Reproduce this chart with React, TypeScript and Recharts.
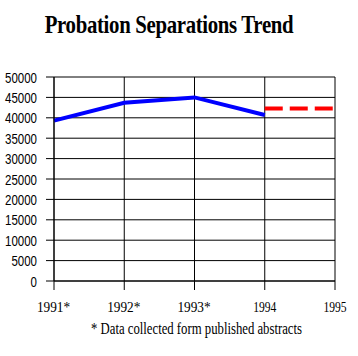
import React from "react";
import { LineChart, Line, XAxis, YAxis, CartesianGrid } from "recharts";

const categories = ["1991*", "1992*", "1993*", "1994", "1995"];
const reported = [39300, 43700, 45000, 40700, null];
const projected = [null, null, null, 42300, 42300];
const yTicks = [0, 5000, 10000, 15000, 20000, 25000, 30000, 35000, 40000, 45000, 50000];

const data = categories.map((c, i) => ({ year: c, reported: reported[i], projected: projected[i] }));

const YTick = (props: any) => {
  const s = String(props.payload.value);
  const len = s.length * 6.4;
  return (
    <text x={props.x - len} y={props.y} dy="0.4em" textAnchor="start" fontFamily="Liberation Sans, Arial, sans-serif" fontSize={14} fill="#000" textLength={len} lengthAdjust="spacingAndGlyphs">
      {s}
    </text>
  );
};

const XTick = (props: any) => {
  const s = String(props.payload.value);
  const star = s.endsWith("*");
  const len = 4 * 5.8 + (star ? 10 : 0);
  return (
    <text x={props.x - (star ? 0.5 : 0)} y={props.y + 19.5} textAnchor="middle" fontFamily="Liberation Serif, Times New Roman, serif" fontSize={15} fill="#000" textLength={len} lengthAdjust="spacingAndGlyphs">
      {s}
    </text>
  );
};

export default function App() {
  return (
    <div style={{ position: "absolute", left: 0, top: 0, width: 358, height: 356, background: "#fff" }}>
      <LineChart width={358} height={356} data={data} margin={{ top: 77, right: 23, bottom: 45, left: 0 }}>
        <CartesianGrid stroke="#000" strokeWidth={1} strokeDasharray="" />
        <XAxis dataKey="year" interval={0} tickSize={9} tickMargin={2} height={30} axisLine={{ stroke: "#000" }} tickLine={{ stroke: "#000" }} tick={<XTick />} />
        <YAxis type="number" domain={[0, 50000]} ticks={yTicks} interval={0} width={54} tickSize={8} tickMargin={9} axisLine={{ stroke: "#000" }} tickLine={{ stroke: "#000" }} tick={<YTick />} />
        <Line dataKey="reported" stroke="#0000FF" strokeWidth={4} dot={false} isAnimationActive={false} />
        <Line dataKey="projected" stroke="#FF0000" strokeWidth={4} strokeDasharray="18 7" dot={false} isAnimationActive={false} />
      </LineChart>
      <svg width={358} height={356} style={{ position: "absolute", left: 0, top: 0, pointerEvents: "none" }}>
        <g transform="translate(169,33) scale(0.8,1)">
          <text x={0} y={0} textAnchor="middle" fontFamily="Liberation Serif, Times New Roman, serif" fontWeight="bold" fontSize={26} fill="#000" letterSpacing={-0.4}>
            Probation Separations Trend
          </text>
        </g>
        <text x={196.5} y={334} textAnchor="middle" fontFamily="Liberation Serif, Times New Roman, serif" fontSize={16} fill="#000" textLength={211} lengthAdjust="spacingAndGlyphs">
          * Data collected form published abstracts
        </text>
      </svg>
    </div>
  );
}
